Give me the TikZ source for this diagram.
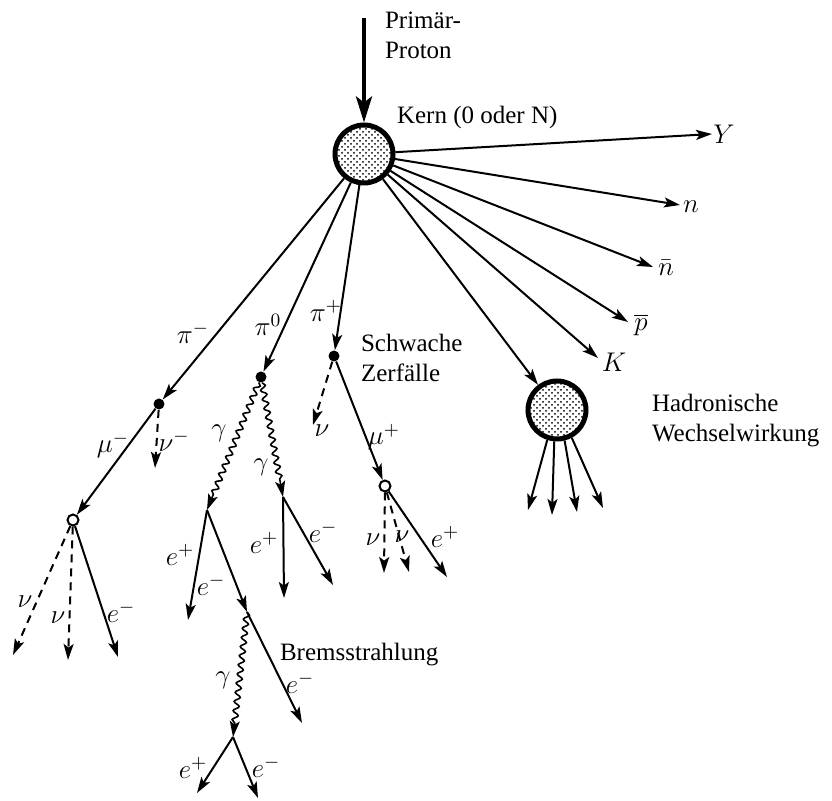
\documentclass[tikz,border=0pt]{standalone}
\usepackage{fix-cm}
\usepackage{fontspec}
\setmainfont{Liberation Serif}
\usetikzlibrary{arrows.meta,decorations.pathmorphing,patterns}

\begin{document}
\begin{tikzpicture}[x=0.5pt, y=-0.5pt,
  every node/.style={font=\fontsize{12.5}{15}\selectfont},
  kern/.style={circle, draw, line width=2.5pt, minimum size=29pt, inner sep=0pt,
               pattern=crosshatch dots},
  vtx/.style={circle, fill, inner sep=0pt, minimum size=5.5pt},
  ovtx/.style={circle, draw, fill=white, line width=1pt, inner sep=0pt, minimum size=5.5pt},
  arrow/.style={-{Stealth[length=8pt, width=5pt, inset=1.8pt]}, line width=1pt},
  nuarrow/.style={arrow, dash pattern=on 4pt off 3pt},
  photon/.style={arrow, line width=0.8pt, decorate,
                 decoration={snake, amplitude=1.4pt, segment length=4.6pt, post length=7pt}},
  primary/.style={-{Stealth[length=13pt, width=8pt, inset=3pt]}, line width=2pt},
  lbl/.style={font=\fontsize{13.5}{15}\selectfont}
]
  \useasboundingbox (0,0) rectangle (832,801);

  % Kerne und Vertices
  \node[kern] (kern) at (364,154) {};
  \node[kern] (hadr) at (557,410) {};
  \node[vtx] (pimv) at (159,404) {};
  \node[vtx] (pi0v) at (261,377) {};
  \node[vtx] (pipv) at (334,356) {};
  \node[ovtx] (mumv) at (73,520) {};
  \node[ovtx] (mupv) at (385,486) {};

  % End- und Paarpunkte
  \coordinate (prim) at (364,18);
  \coordinate (Yend) at (712,134);
  \coordinate (nend) at (680,205);
  \coordinate (nbend) at (653,267);
  \coordinate (pbend) at (628,322);
  \coordinate (Kend) at (598,358);
  \coordinate (numend) at (155,468);
  \coordinate (nuA) at (13,655);
  \coordinate (nuB) at (68,660);
  \coordinate (emA) at (118,657);
  \coordinate (pairA) at (207,510);
  \coordinate (pairB) at (283,497);
  \coordinate (epA) at (188,620);
  \coordinate (brems) at (247,612);
  \coordinate (emB) at (302,723);
  \coordinate (pairC) at (233,737);
  \coordinate (epC) at (197,793);
  \coordinate (emC) at (258,798);
  \coordinate (epB) at (284,598);
  \coordinate (emD) at (333,585);
  \coordinate (nupi) at (313,425);
  \coordinate (nuC) at (384,573);
  \coordinate (nuD) at (409,572);
  \coordinate (epD) at (447,577);
  \coordinate (hadA) at (528,510);
  \coordinate (hadB) at (552,515);
  \coordinate (hadC) at (577,512);
  \coordinate (hadD) at (603,508);

  % Texte
  \node[anchor=west, align=left] (primtxt) at (378,35) {Primär-\\Proton};
  \node[anchor=west] (kerntxt) at (390,117) {Kern (0 oder N)};
  \node[anchor=west, align=left] (schwtxt) at (354,358) {Schwache\\Zerfälle};
  \node[anchor=west, align=left] (hadrtxt) at (645,421) {Hadronische\\Wechselwirkung};
  \node[anchor=west] (bremstxt) at (273,655) {Bremsstrahlung};

  \node[lbl] (Ylbl) at (724,134) {$Y$};
  \node[lbl] (nlbl) at (691,207) {$n$};
  \node[lbl] (nblbl) at (666,268) {$\bar n$};
  \node[lbl] (pblbl) at (641,325) {$\overline{p}$};
  \node[lbl] (Klbl) at (614,362) {$K$};
  \node[lbl] (pimlbl) at (193,333) {$\pi^-$};
  \node[lbl] (pi0lbl) at (268,325) {$\pi^0$};
  \node[lbl] (piplbl) at (326,311) {$\pi^+$};
  \node[lbl] (mumlbl) at (113,445) {$\mu^-$};
  \node[lbl] (numlbl) at (174,441) {$\nu^-$};
  \node[lbl] (nuAlbl) at (25,602) {$\nu$};
  \node[lbl] (nuBlbl) at (58,618) {$\nu$};
  \node[lbl] (emAlbl) at (121,612) {$e^-$};
  \node[lbl] (gAlbl) at (219,433) {$\gamma$};
  \node[lbl] (gBlbl) at (261,467) {$\gamma$};
  \node[lbl] (epAlbl) at (180,555) {$e^+$};
  \node[lbl] (emBlbl) at (211,585) {$e^-$};
  \node[lbl] (epBlbl) at (264,543) {$e^+$};
  \node[lbl] (emDlbl) at (323,532) {$e^-$};
  \node[lbl] (nupilbl) at (322,431) {$\nu$};
  \node[lbl] (muplbl) at (384,437) {$\mu^+$};
  \node[lbl] (nuClbl) at (373,540) {$\nu$};
  \node[lbl] (nuDlbl) at (402,537) {$\nu$};
  \node[lbl] (epDlbl) at (445,537) {$e^+$};
  \node[lbl] (gClbl) at (223,680) {$\gamma$};
  \node[lbl] (emClbl) at (300,683) {$e^-$};
  \node[lbl] (epClbl) at (193,768) {$e^+$};
  \node[lbl] (emElbl) at (266,767) {$e^-$};

  % Primaerproton und Kernreaktion
  \draw[primary] (prim) -- (kern);
  \draw[arrow] (kern) -- (Yend);
  \draw[arrow] (kern) -- (nend);
  \draw[arrow] (kern) -- (nbend);
  \draw[arrow] (kern) -- (pbend);
  \draw[arrow] (kern) -- (Kend);
  \draw[arrow] (kern) -- (hadr);
  \draw[arrow] (kern) -- (pimv);
  \draw[arrow] (kern) -- (pi0v);
  \draw[arrow] (kern) -- (pipv);

  % Hadronische Wechselwirkung
  \draw[arrow] (hadr.-108) -- (hadA);
  \draw[arrow] (hadr.-95) -- (hadB);
  \draw[arrow] (hadr.-76) -- (hadC);
  \draw[arrow] (hadr.-62) -- (hadD);

  % pi- Zerfall
  \draw[arrow] (pimv) -- (mumv);
  \draw[nuarrow] (pimv) -- (numend);
  \draw[nuarrow] (mumv) -- (nuA);
  \draw[nuarrow] (mumv) -- (nuB);
  \draw[arrow] (mumv) -- (emA);

  % pi0 Zerfall, Paarbildung, Bremsstrahlung
  \draw[photon] (pi0v) -- (pairA);
  \draw[photon] (pi0v) -- (pairB);
  \draw[arrow] (pairA) -- (epA);
  \draw[arrow] (pairA) -- (brems);
  \draw[arrow] (brems) -- (emB);
  \draw[photon] (brems) -- (pairC);
  \draw[arrow] (pairC) -- (epC);
  \draw[arrow] (pairC) -- (emC);
  \draw[arrow] (pairB) -- (epB);
  \draw[arrow] (pairB) -- (emD);

  % pi+ Zerfall
  \draw[nuarrow] (pipv) -- (nupi);
  \draw[arrow] (pipv) -- (mupv);
  \draw[nuarrow] (mupv) -- (nuC);
  \draw[nuarrow] (mupv) -- (nuD);
  \draw[arrow] (mupv) -- (epD);
\end{tikzpicture}
\end{document}
